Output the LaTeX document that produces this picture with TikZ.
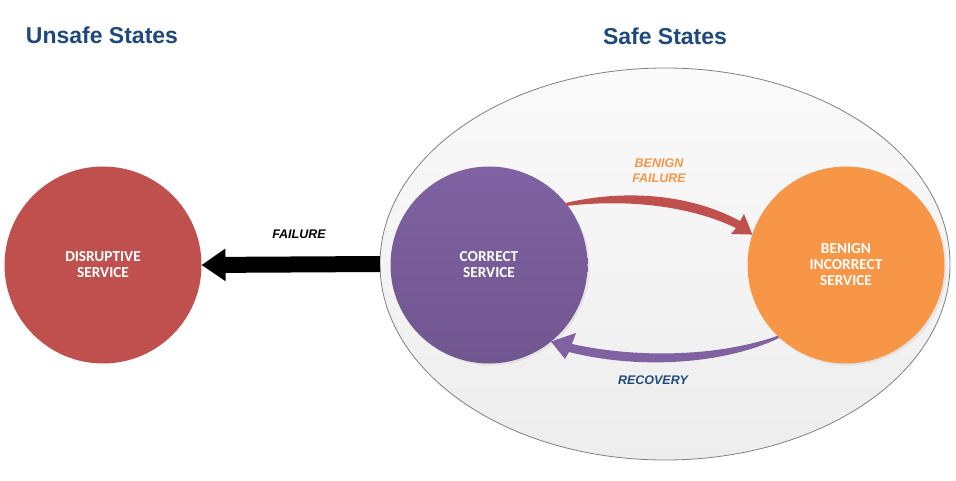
\documentclass[tikz,border=0pt]{standalone}
\usepackage{fontspec}
\setmainfont{Liberation Sans}
\newfontfamily\calfont{Carlito}
\usepackage{xcolor}
\usepackage{tikz}
\usetikzlibrary{shapes.geometric}
\usetikzlibrary{arrows.meta}
\usetikzlibrary{shadows}

\definecolor{titleblue}{RGB}{31,73,125}
\definecolor{failred}{RGB}{192,80,77}
\definecolor{servpurple}{RGB}{128,98,162}
\definecolor{servpurpledark}{RGB}{112,86,143}
\definecolor{benorange}{RGB}{247,150,70}
\definecolor{stateline}{RGB}{128,128,128}

\begin{document}
\begin{tikzpicture}[x=1pt,y=-1pt,
	title/.style={font=\fontsize{23}{26}\selectfont\bfseries, text=titleblue},
	state/.style={circle, minimum size=197pt, inner sep=0pt, outer sep=0pt,
		text=white, align=center, font=\calfont\fontsize{15.3}{16}\selectfont\bfseries},
	soft/.style={drop shadow={opacity=0.12, shadow xshift=2pt, shadow yshift=-2pt}},
	lbl/.style={font=\fontsize{12.5}{15}\selectfont\bfseries\itshape, align=center}]
	\useasboundingbox (0,0) rectangle (956,481);
	\fill[white] (0,0) rectangle (956,481);
	% titles
	\node[title, anchor=base] (unsafetitle) at (102,44) {Unsafe States};
	\node[title, anchor=base] (safetitle) at (665,45) {Safe States};
	% safe region
	\node[ellipse, draw=stateline, line width=0.8pt, top color=white!98!black,
		bottom color=white!93!black, minimum width=570pt, minimum height=392pt,
		inner sep=0pt, outer sep=0pt] (safe) at (665,264) {};
	% states
	\node[state, fill=failred] (unsafe) at (103,265) {DISRUPTIVE\\SERVICE};
	\node[state, soft, top color=servpurple, bottom color=servpurpledark] (correct) at (489,265) {CORRECT\\SERVICE};
	\node[state, soft, fill=benorange] (benign) at (846,265) {BENIGN\\INCORRECT\\SERVICE};
	% failure
	\draw[line width=16pt, -{Triangle[length=24pt,width=31pt]}] (safe.west) -- (unsafe.east);
	\node[lbl, anchor=base] (failure) at (299,239) {FAILURE};
	% benign failure
	\fill[failred] (correct.39) .. controls (625,189) and (690,194) .. (740,221)
		-- (744,214) -- (benign.162) -- (731,234) -- (736,228)
		.. controls (688,205) and (625,199) .. (566,206) -- cycle;
	\node[lbl, text=benorange] (benignfailure) at (659,170.5) {BENIGN\\FAILURE};
	% recovery
	\fill[servpurple] (benign.226) .. controls (720,356) and (640,359) .. (572,344)
		-- (576,333) -- (correct.309) -- (565,359) -- (569,352)
		.. controls (640,370) and (725,364) .. (779,338) -- cycle;
	\node[lbl, text=titleblue, anchor=base] (recovery) at (653,384) {RECOVERY};
\end{tikzpicture}
\end{document}
